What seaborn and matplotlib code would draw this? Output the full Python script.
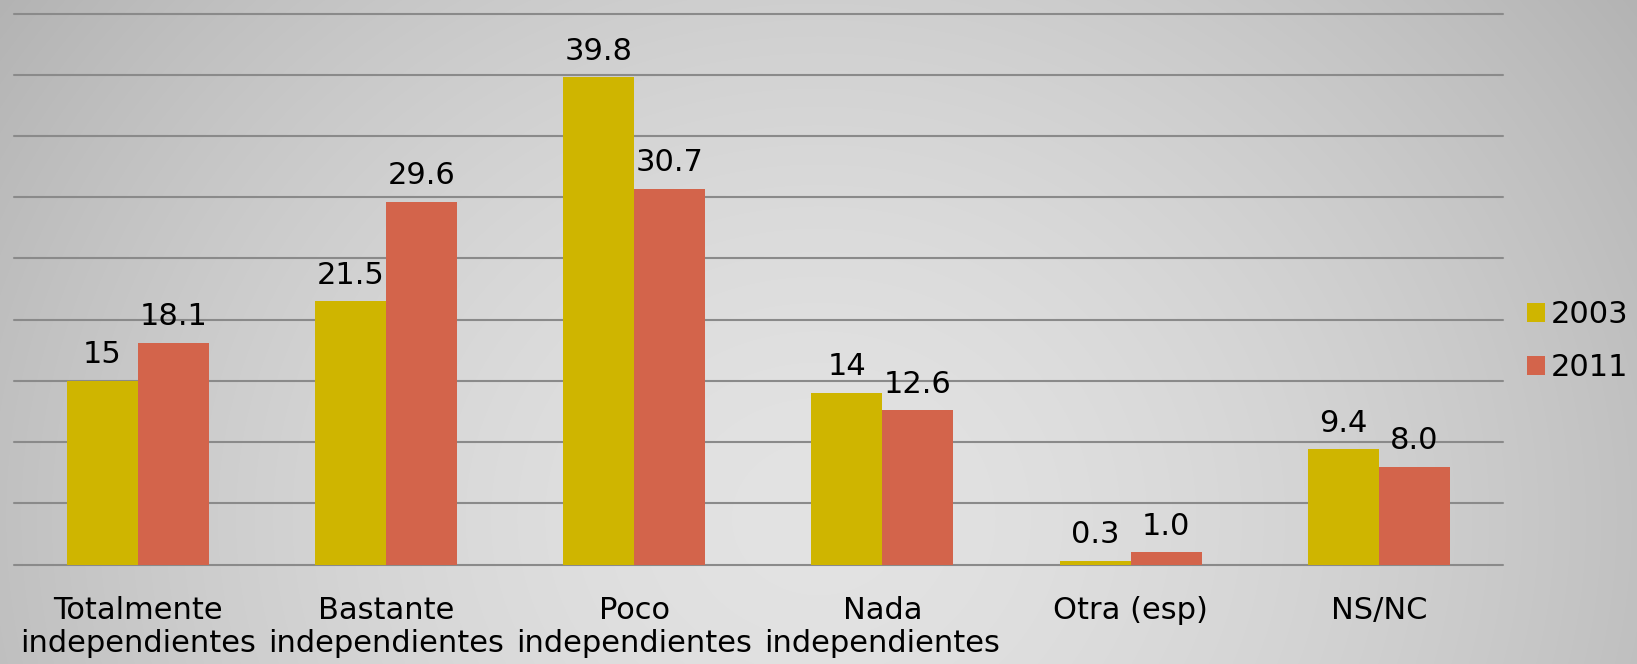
import numpy as np
import pandas as pd
import matplotlib
matplotlib.use("Agg")
import matplotlib.pyplot as plt
import seaborn as sns
from matplotlib.patches import Patch

categories = ["Totalmente\nindependientes", "Bastante\nindependientes", "Poco\nindependientes",
              "Nada\nindependientes", "Otra (esp)", "NS/NC"]
years = ["2003", "2011"]
values_2003 = [15, 21.5, 39.8, 14, 0.3, 9.4]
values_2011 = [18.1, 29.6, 30.7, 12.6, 1.0, 8.0]
labels_2003 = ["15", "21.5", "39.8", "14", "0.3", "9.4"]
labels_2011 = ["18.1", "29.6", "30.7", "12.6", "1.0", "8.0"]
y_ticks = [0, 5, 10, 15, 20, 25, 30, 35, 40, 45]

colors = {"2003": "#CFB500", "2011": "#D3644B"}

df = pd.DataFrame({
    "cat": categories * 2,
    "year": [years[0]] * len(categories) + [years[1]] * len(categories),
    "value": values_2003 + values_2011,
})

sns.set_theme(style="white")
plt.rcParams["font.family"] = ["DejaVu Sans"]

W, H, DPI = 1637, 664, 100
fig = plt.figure(figsize=(W / DPI, H / DPI), dpi=DPI)

# gradient background
bg = fig.add_axes([0, 0, 1, 1], zorder=-10)
yy, xx = np.mgrid[0:H, 0:W]
cx, cy = W * 0.5, H * 0.78
r = np.sqrt(((xx - cx) / (W * 0.62)) ** 2 + ((yy - cy) / (H * 1.35)) ** 2)
r = np.clip(r, 0, 1)
c0, c1 = 0.89, 0.70
img = c0 + (c1 - c0) * r ** 1.6
bg.imshow(np.dstack([img, img, img]), aspect="auto", extent=[0, 1, 0, 1], origin="upper")
bg.axis("off")

ax = fig.add_axes([13.6 / W, (H - 564.5) / H, (1503 - 13.6) / W, (564.5 - 13.6) / H])
ax.patch.set_alpha(0)

sns.barplot(data=df, x="cat", y="value", hue="year", palette=colors, width=0.572,
            gap=0, ax=ax, legend=False, saturation=1, zorder=3, linewidth=0)

ax.set_ylim(0, 45)
ax.set_xlim(-0.5, len(categories) - 0.5)
ax.set_yticks(y_ticks)
ax.set_yticklabels([])
ax.tick_params(axis="y", length=0)
ax.grid(axis="y", color="#8a8a8a", linewidth=1.5, zorder=0)
for gl in ax.get_ygridlines():
    gl.set_clip_on(False)
ax.set_axisbelow(True)
for s in ax.spines.values():
    s.set_visible(False)
ax.set_xlabel("")
ax.set_ylabel("")
ax.tick_params(axis="x", length=0, pad=23, labelsize=22, labelcolor="black")
for t in ax.get_xticklabels():
    t.set_linespacing(1.15)

for cont, labs in zip(ax.containers, [labels_2003, labels_2011]):
    for bar, lab in zip(cont, labs):
        ax.annotate(lab, (bar.get_x() + bar.get_width() / 2, bar.get_height()),
                    xytext=(0, 12.7), textcoords="offset points",
                    ha="center", va="baseline", fontsize=22, color="black", zorder=5)

handles = [Patch(facecolor=colors[y], edgecolor="none", label=y) for y in years]
leg = fig.legend(handles=handles, loc="upper left", bbox_to_anchor=(1527 / W, 1 - 300 / H),
                 frameon=False, fontsize=22, handlelength=0.59, handleheight=0.59,
                 handletextpad=0.18, labelspacing=0.8, borderaxespad=0, borderpad=0)
for t in leg.get_texts():
    t.set_color("black")

fig.savefig("out.png", dpi=DPI)
